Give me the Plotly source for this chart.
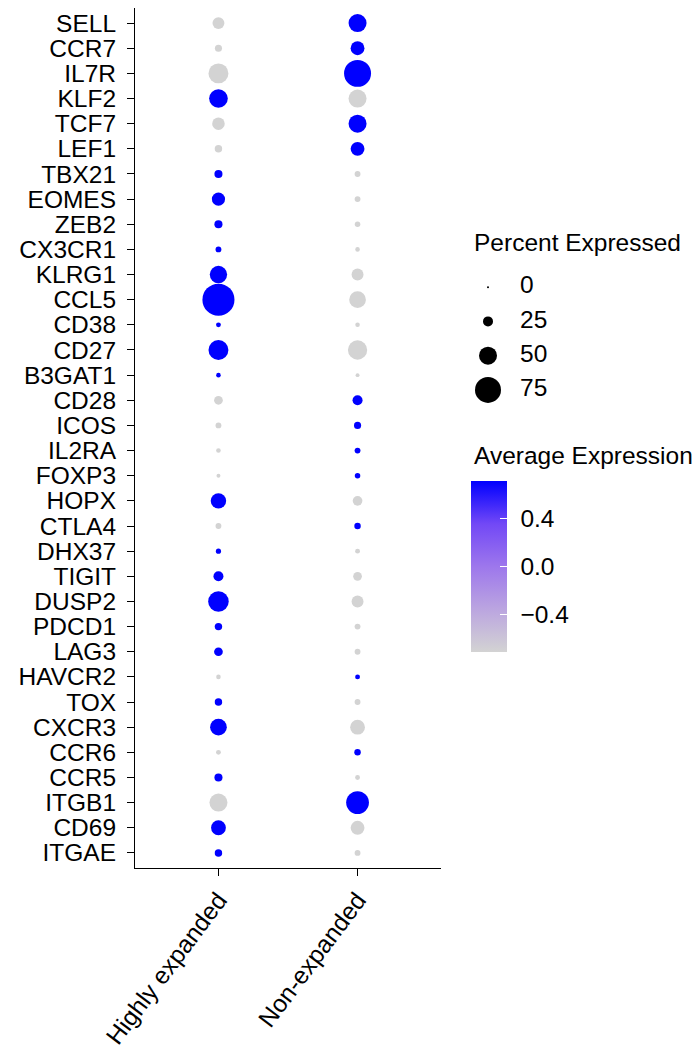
import plotly.graph_objects as go

genes = ["SELL", "CCR7", "IL7R", "KLF2", "TCF7", "LEF1", "TBX21", "EOMES", "ZEB2",
         "CX3CR1", "KLRG1", "CCL5", "CD38", "CD27", "B3GAT1", "CD28", "ICOS", "IL2RA",
         "FOXP3", "HOPX", "CTLA4", "DHX37", "TIGIT", "DUSP2", "PDCD1", "LAG3", "HAVCR2",
         "TOX", "CXCR3", "CCR6", "CCR5", "ITGB1", "CD69", "ITGAE"]
groups = ["Highly expanded", "Non-expanded"]

# percent of cells expressing
pct_high = [31, 16, 56, 52, 33, 17, 19, 35, 19, 12, 48, 94, 9, 56, 8, 21, 12, 8,
            6, 42, 12, 10, 25, 58, 17, 21, 8, 17, 46, 9, 19, 50, 40, 17]
pct_non = [50, 37, 78, 50, 50, 37, 12, 12, 11, 8, 31, 46, 8, 54, 6, 25, 16, 12,
           11, 24, 14, 9, 21, 31, 12, 12, 9, 12, 40, 14, 9, 65, 37, 12]

# scaled average expression (two groups -> +/- 0.707)
H, L = 0.707, -0.707
avg_high = [L, L, L, H, L, L, H, H, H, H, H, H, H, H, H, L, L, L,
            L, H, L, H, H, H, H, H, L, H, H, L, H, L, H, H]
avg_non = [-v for v in avg_high]

legend_pct = [0, 25, 50, 75]
legend_labels = ["0", "25", "50", "75"]
cbar_ticks = [-0.4, 0.0, 0.4]
cbar_text = ["\u22120.4", "0.0", "0.4"]

FONT = "Liberation Sans, Arial, sans-serif"
FS = 24.5
FSX = 24.5
cscale = [[0, "#D3D3D3"], [0.25, "#BBA5E0"], [0.5, "#9D77EC"], [0.75, "#7248F6"], [1, "#0000FF"]]


def dsize(p):
    return 2 + 0.32 * p


W, Hh = 698, 1058
ml, mr, mt, mb = 135, 5, 8, 190
pw = W - ml - mr
ph = Hh - mt - mb


def px_x(x):
    return (x - ml) / pw


def px_y(y):
    return (Hh - mb - y) / ph


fig = go.Figure()

cb_common = dict(
    x=px_x(471), xanchor="left", xpad=0,
    y=px_y(566.5), yanchor="middle", ypad=0,
    thickness=36, len=171, lenmode="pixels",
    outlinewidth=0, tickvals=cbar_ticks, ticktext=cbar_text,
    tickfont=dict(family=FONT, size=FS, color="black"),
)

fig.add_trace(go.Scatter(
    x=[groups[0]] * len(genes), y=genes, mode="markers",
    marker=dict(size=[dsize(p) for p in pct_high], color=avg_high, opacity=1,
                colorscale=cscale, cmin=-0.707, cmax=0.707, line=dict(width=0),
                showscale=True,
                colorbar=dict(ticks="outside", ticklen=9, tickcolor="rgba(0,0,0,0)",
                              **cb_common)),
    showlegend=False, hoverinfo="skip"))

fig.add_trace(go.Scatter(
    x=[groups[1]] * len(genes), y=genes, mode="markers",
    marker=dict(size=[dsize(p) for p in pct_non], color=avg_non, opacity=1,
                colorscale=cscale, cmin=-0.707, cmax=0.707, line=dict(width=0),
                showscale=True,
                colorbar=dict(ticks="inside", ticklen=7, tickcolor="white",
                              tickwidth=1, showticklabels=False, **cb_common)),
    showlegend=False, hoverinfo="skip"))

# size legend
fig.add_trace(go.Scatter(
    x=[0.28] * 4, y=legend_labels, mode="markers",
    marker=dict(size=[dsize(p) for p in legend_pct], color="black", opacity=1,
                line=dict(width=0)),
    cliponaxis=False,
    xaxis="x2", yaxis="y2", showlegend=False, hoverinfo="skip"))
fig.add_trace(go.Scatter(
    x=[0.92] * 4, y=legend_labels, mode="text", text=legend_labels,
    textposition="middle right", cliponaxis=False,
    textfont=dict(family=FONT, size=FS, color="black"),
    xaxis="x2", yaxis="y2", showlegend=False, hoverinfo="skip"))

fig.update_layout(
    width=W, height=Hh,
    margin=dict(l=ml, r=mr, t=mt, b=mb, autoexpand=False),
    paper_bgcolor="white", plot_bgcolor="white",
    font=dict(family=FONT, size=FS, color="black"),
    xaxis=dict(domain=[0, px_x(441)], type="category", categoryorder="array",
               categoryarray=groups, range=[-0.6, 1.6],
               tickmode="array", tickvals=groups, ticktext=groups,
               showline=True, linecolor="black", linewidth=1.1,
               ticks="outside", ticklen=7, tickwidth=1.1, tickcolor="black",
               tickangle=-53, showgrid=False, zeroline=False, automargin=False,
               tickfont=dict(family=FONT, size=FSX, color="black")),
    yaxis=dict(domain=[0, 1], type="category", categoryorder="array",
               categoryarray=genes, range=[33.6, -0.6],
               tickmode="array", tickvals=genes, ticktext=genes,
               showline=True, linecolor="black", linewidth=1.1,
               ticks="outside", ticklen=7, tickwidth=1.1, tickcolor="black",
               ticklabelstandoff=6, showgrid=False, zeroline=False, automargin=False,
               tickfont=dict(family=FONT, size=FS, color="black")),
    xaxis2=dict(domain=[px_x(474), px_x(524)], range=[0, 1], visible=False,
                anchor="y2", automargin=False),
    yaxis2=dict(domain=[px_y(407), px_y(270)], type="category",
                categoryorder="array", categoryarray=legend_labels,
                range=[3.5, -0.5], visible=False, anchor="x2", automargin=False),
    annotations=[
        dict(text="Percent Expressed", x=px_x(472), y=px_y(242), xref="paper", yref="paper",
             xanchor="left", yanchor="middle", showarrow=False,
             font=dict(family=FONT, size=FS, color="black")),
        dict(text="Average Expression", x=px_x(472), y=px_y(455), xref="paper", yref="paper",
             xanchor="left", yanchor="middle", showarrow=False,
             font=dict(family=FONT, size=FS, color="black")),
    ],
)

fig.write_html("out.html", post_script="document.body.style.margin='0';",
               config={"displayModeBar": False})
